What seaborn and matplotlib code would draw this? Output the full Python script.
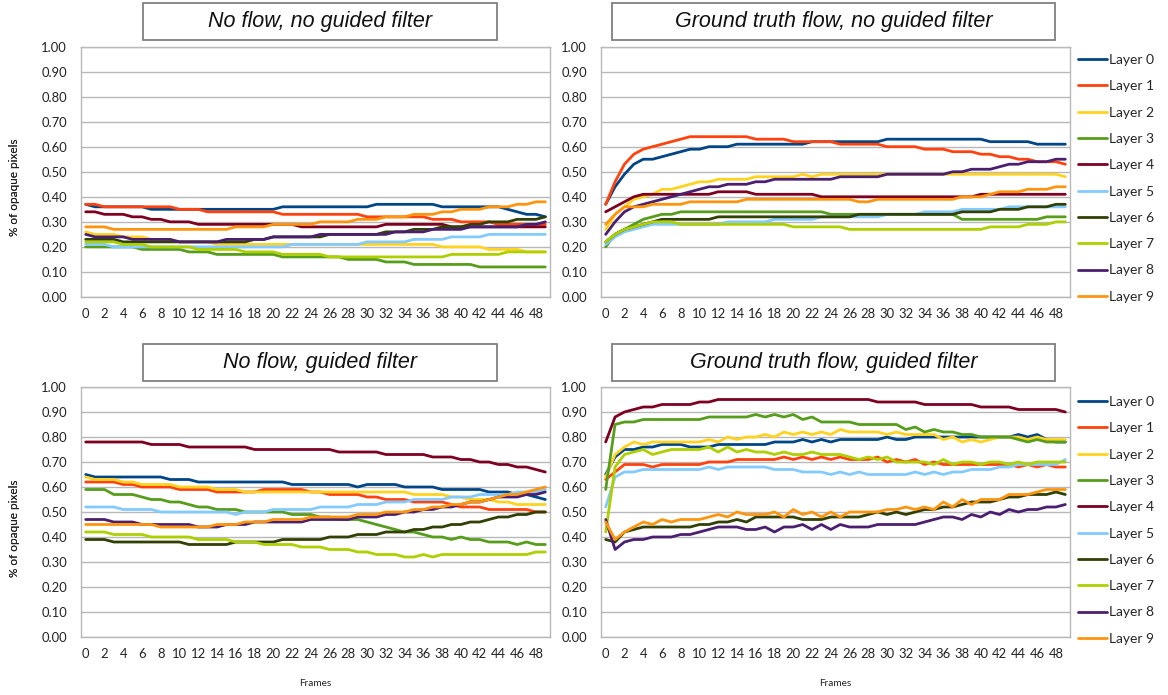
import matplotlib
matplotlib.use("Agg")
import matplotlib.pyplot as plt
from matplotlib.patches import Rectangle
import numpy as np
import pandas as pd
import seaborn as sns

# ---------------- data ----------------
frames = list(range(50))
layer_names = [f"Layer {i}" for i in range(10)]
layer_colors = ["#004586", "#ff420e", "#ffd320", "#579d1c", "#7e0021",
                "#83caff", "#314004", "#aecf00", "#4b1f6f", "#ff950e"]
panel_titles = ["No flow, no guided filter", "Ground truth flow, no guided filter",
                "No flow, guided filter", "Ground truth flow, guided filter"]
y_ticks = [0.0, 0.1, 0.2, 0.3, 0.4, 0.5, 0.6, 0.7, 0.8, 0.9, 1.0]
x_ticks = list(range(0, 50, 2))

# Panel A: No flow, no guided filter
a_l0 = [0.37,0.36,0.36,0.36,0.36,0.36,0.36,0.35,0.35,0.35, 0.35,0.35,0.35,0.35,0.35,0.35,0.35,0.35,0.35,0.35,
        0.35,0.36,0.36,0.36,0.36,0.36,0.36,0.36,0.36,0.36, 0.36,0.37,0.37,0.37,0.37,0.37,0.37,0.37,0.36,0.36,
        0.36,0.36,0.36,0.36,0.36,0.35,0.34,0.33,0.33,0.32]
a_l1 = [0.37,0.37,0.36,0.36,0.36,0.36,0.36,0.36,0.36,0.36, 0.35,0.35,0.35,0.34,0.34,0.34,0.34,0.34,0.34,0.34,
        0.34,0.33,0.33,0.33,0.33,0.33,0.33,0.33,0.33,0.33, 0.32,0.32,0.32,0.32,0.32,0.32,0.32,0.31,0.31,0.31,
        0.30,0.30,0.30,0.30,0.29,0.29,0.29,0.29,0.29,0.29]
a_l2 = [0.26,0.25,0.25,0.25,0.24,0.24,0.24,0.23,0.23,0.23, 0.22,0.22,0.22,0.22,0.21,0.21,0.21,0.21,0.21,0.21,
        0.21,0.21,0.21,0.21,0.21,0.21,0.21,0.21,0.21,0.21, 0.21,0.21,0.21,0.21,0.21,0.21,0.21,0.21,0.20,0.20,
        0.20,0.20,0.20,0.19,0.19,0.19,0.19,0.18,0.18,0.18]
a_l3 = [0.20,0.20,0.20,0.20,0.20,0.20,0.19,0.19,0.19,0.19, 0.19,0.18,0.18,0.18,0.17,0.17,0.17,0.17,0.17,0.17,
        0.17,0.16,0.16,0.16,0.16,0.16,0.16,0.16,0.15,0.15, 0.15,0.15,0.14,0.14,0.14,0.13,0.13,0.13,0.13,0.13,
        0.13,0.13,0.12,0.12,0.12,0.12,0.12,0.12,0.12,0.12]
a_l4 = [0.34,0.34,0.33,0.33,0.33,0.32,0.32,0.31,0.31,0.30, 0.30,0.30,0.29,0.29,0.29,0.29,0.29,0.29,0.29,0.29,
        0.29,0.29,0.29,0.28,0.28,0.28,0.28,0.28,0.28,0.28, 0.28,0.28,0.29,0.29,0.29,0.29,0.29,0.29,0.29,0.28,
        0.28,0.28,0.28,0.28,0.28,0.28,0.28,0.28,0.28,0.28]
a_l5 = [0.21,0.21,0.21,0.20,0.20,0.20,0.20,0.20,0.20,0.20, 0.20,0.20,0.20,0.20,0.20,0.20,0.20,0.20,0.20,0.20,
        0.20,0.20,0.21,0.21,0.21,0.21,0.21,0.21,0.21,0.21, 0.22,0.22,0.22,0.22,0.22,0.23,0.23,0.23,0.23,0.24,
        0.24,0.24,0.24,0.25,0.25,0.25,0.25,0.25,0.25,0.25]
a_l6 = [0.23,0.23,0.23,0.23,0.22,0.22,0.22,0.22,0.22,0.22, 0.22,0.22,0.22,0.22,0.22,0.22,0.22,0.22,0.23,0.23,
        0.24,0.24,0.24,0.24,0.24,0.24,0.25,0.25,0.25,0.25, 0.25,0.25,0.26,0.26,0.26,0.27,0.27,0.27,0.28,0.28,
        0.28,0.29,0.29,0.30,0.30,0.30,0.31,0.31,0.31,0.32]
a_l7 = [0.22,0.22,0.22,0.22,0.21,0.21,0.21,0.20,0.20,0.20, 0.20,0.20,0.19,0.19,0.19,0.19,0.19,0.18,0.18,0.18,
        0.18,0.17,0.17,0.17,0.17,0.17,0.16,0.16,0.16,0.16, 0.16,0.16,0.16,0.16,0.16,0.16,0.16,0.16,0.16,0.17,
        0.17,0.17,0.17,0.17,0.17,0.18,0.18,0.18,0.18,0.18]
a_l8 = [0.25,0.24,0.24,0.24,0.24,0.23,0.23,0.23,0.23,0.23, 0.22,0.22,0.22,0.22,0.22,0.23,0.23,0.23,0.23,0.23,
        0.24,0.24,0.24,0.24,0.24,0.25,0.25,0.25,0.25,0.25, 0.25,0.25,0.25,0.26,0.26,0.26,0.26,0.27,0.27,0.27,
        0.27,0.28,0.28,0.28,0.28,0.28,0.28,0.29,0.29,0.30]
a_l9 = [0.28,0.28,0.28,0.27,0.27,0.27,0.27,0.27,0.27,0.27, 0.27,0.27,0.27,0.27,0.27,0.27,0.28,0.28,0.28,0.28,
        0.29,0.29,0.29,0.29,0.29,0.30,0.30,0.30,0.30,0.31, 0.31,0.31,0.32,0.32,0.32,0.33,0.33,0.33,0.34,0.34,
        0.35,0.35,0.35,0.36,0.36,0.36,0.37,0.37,0.38,0.38]

# Panel B: Ground truth flow, no guided filter
b_l0 = [0.37,0.44,0.49,0.53,0.55,0.55,0.56,0.57,0.58,0.59, 0.59,0.60,0.60,0.60,0.61,0.61,0.61,0.61,0.61,0.61,
        0.61,0.61,0.62,0.62,0.62,0.62,0.62,0.62,0.62,0.62, 0.63,0.63,0.63,0.63,0.63,0.63,0.63,0.63,0.63,0.63,
        0.63,0.62,0.62,0.62,0.62,0.62,0.61,0.61,0.61,0.61]
b_l1 = [0.37,0.46,0.53,0.57,0.59,0.60,0.61,0.62,0.63,0.64, 0.64,0.64,0.64,0.64,0.64,0.64,0.63,0.63,0.63,0.63,
        0.62,0.62,0.62,0.62,0.62,0.61,0.61,0.61,0.61,0.61, 0.60,0.60,0.60,0.60,0.59,0.59,0.59,0.58,0.58,0.58,
        0.57,0.57,0.56,0.56,0.55,0.55,0.54,0.54,0.54,0.53]
b_l2 = [0.27,0.33,0.36,0.39,0.40,0.41,0.43,0.43,0.44,0.45, 0.46,0.46,0.47,0.47,0.47,0.47,0.48,0.48,0.48,0.48,
        0.48,0.49,0.48,0.49,0.49,0.49,0.49,0.49,0.49,0.49, 0.49,0.49,0.49,0.49,0.49,0.49,0.49,0.49,0.49,0.49,
        0.49,0.49,0.49,0.49,0.49,0.49,0.49,0.49,0.49,0.48]
b_l3 = [0.20,0.25,0.27,0.29,0.31,0.32,0.33,0.33,0.34,0.34, 0.34,0.34,0.34,0.34,0.34,0.34,0.34,0.34,0.34,0.34,
        0.34,0.34,0.34,0.34,0.33,0.33,0.33,0.33,0.33,0.33, 0.33,0.33,0.33,0.33,0.33,0.33,0.33,0.33,0.31,0.31,
        0.31,0.31,0.31,0.31,0.31,0.31,0.31,0.32,0.32,0.32]
b_l4 = [0.34,0.36,0.38,0.40,0.41,0.41,0.41,0.41,0.41,0.41, 0.41,0.41,0.42,0.42,0.42,0.42,0.41,0.41,0.41,0.41,
        0.41,0.41,0.41,0.40,0.40,0.40,0.40,0.40,0.40,0.40, 0.40,0.40,0.40,0.40,0.40,0.40,0.40,0.40,0.40,0.40,
        0.41,0.41,0.41,0.41,0.41,0.41,0.41,0.41,0.41,0.41]
b_l5 = [0.21,0.24,0.26,0.27,0.28,0.29,0.29,0.29,0.29,0.29, 0.29,0.29,0.29,0.30,0.30,0.30,0.30,0.30,0.31,0.31,
        0.31,0.31,0.31,0.32,0.32,0.32,0.32,0.32,0.32,0.32, 0.33,0.33,0.33,0.33,0.34,0.34,0.34,0.34,0.35,0.35,
        0.35,0.35,0.35,0.36,0.36,0.36,0.36,0.36,0.36,0.36]
b_l6 = [0.22,0.25,0.27,0.28,0.29,0.30,0.31,0.31,0.31,0.31, 0.31,0.31,0.32,0.32,0.32,0.32,0.32,0.32,0.32,0.32,
        0.32,0.32,0.32,0.32,0.32,0.32,0.32,0.33,0.33,0.33, 0.33,0.33,0.33,0.33,0.33,0.33,0.33,0.33,0.34,0.34,
        0.34,0.34,0.35,0.35,0.35,0.36,0.36,0.36,0.37,0.37]
b_l7 = [0.22,0.25,0.27,0.28,0.29,0.30,0.30,0.30,0.29,0.29, 0.29,0.29,0.29,0.29,0.29,0.29,0.29,0.29,0.29,0.29,
        0.28,0.28,0.28,0.28,0.28,0.28,0.27,0.27,0.27,0.27, 0.27,0.27,0.27,0.27,0.27,0.27,0.27,0.27,0.27,0.27,
        0.27,0.28,0.28,0.28,0.28,0.29,0.29,0.29,0.30,0.30]
b_l8 = [0.25,0.30,0.34,0.36,0.37,0.38,0.39,0.40,0.41,0.42, 0.43,0.44,0.44,0.45,0.45,0.45,0.46,0.46,0.47,0.47,
        0.47,0.47,0.47,0.47,0.47,0.48,0.48,0.48,0.48,0.48, 0.49,0.49,0.49,0.49,0.49,0.49,0.49,0.50,0.50,0.51,
        0.51,0.51,0.52,0.53,0.53,0.54,0.54,0.54,0.55,0.55]
b_l9 = [0.29,0.33,0.36,0.36,0.36,0.37,0.37,0.37,0.37,0.38, 0.38,0.38,0.38,0.38,0.38,0.39,0.39,0.39,0.39,0.39,
        0.39,0.39,0.39,0.39,0.39,0.39,0.39,0.38,0.38,0.39, 0.39,0.39,0.39,0.39,0.39,0.39,0.39,0.39,0.40,0.40,
        0.40,0.41,0.42,0.42,0.42,0.43,0.43,0.43,0.44,0.44]

# Panel C: No flow, guided filter
c_l0 = [0.65,0.64,0.64,0.64,0.64,0.64,0.64,0.64,0.64,0.63, 0.63,0.63,0.62,0.62,0.62,0.62,0.62,0.62,0.62,0.62,
        0.62,0.62,0.61,0.61,0.61,0.61,0.61,0.61,0.61,0.60, 0.61,0.61,0.61,0.61,0.60,0.60,0.60,0.60,0.59,0.59,
        0.59,0.59,0.59,0.58,0.58,0.58,0.57,0.57,0.56,0.55]
c_l1 = [0.62,0.62,0.62,0.62,0.61,0.61,0.60,0.60,0.60,0.60, 0.59,0.59,0.59,0.59,0.58,0.58,0.58,0.58,0.58,0.59,
        0.59,0.59,0.59,0.59,0.58,0.58,0.57,0.57,0.57,0.57, 0.56,0.56,0.55,0.55,0.55,0.54,0.54,0.54,0.54,0.53,
        0.52,0.52,0.52,0.51,0.51,0.51,0.51,0.51,0.50,0.50]
c_l2 = [0.64,0.63,0.63,0.63,0.62,0.62,0.61,0.61,0.61,0.61, 0.60,0.60,0.60,0.60,0.59,0.59,0.59,0.58,0.58,0.58,
        0.58,0.58,0.58,0.58,0.58,0.58,0.58,0.58,0.58,0.58, 0.58,0.58,0.58,0.58,0.58,0.57,0.57,0.57,0.57,0.56,
        0.56,0.55,0.55,0.55,0.54,0.54,0.53,0.53,0.53,0.53]
c_l3 = [0.59,0.59,0.59,0.57,0.57,0.57,0.56,0.55,0.55,0.54, 0.54,0.53,0.52,0.52,0.51,0.51,0.51,0.50,0.50,0.50,
        0.50,0.50,0.49,0.49,0.49,0.48,0.48,0.47,0.47,0.47, 0.46,0.45,0.44,0.43,0.42,0.42,0.41,0.40,0.40,0.39,
        0.40,0.39,0.39,0.38,0.38,0.38,0.37,0.38,0.37,0.37]
c_l4 = [0.78,0.78,0.78,0.78,0.78,0.78,0.78,0.77,0.77,0.77, 0.77,0.76,0.76,0.76,0.76,0.76,0.76,0.76,0.75,0.75,
        0.75,0.75,0.75,0.75,0.75,0.75,0.75,0.74,0.74,0.74, 0.74,0.74,0.73,0.73,0.73,0.73,0.73,0.72,0.72,0.72,
        0.71,0.71,0.70,0.70,0.69,0.69,0.68,0.68,0.67,0.66]
c_l5 = [0.52,0.52,0.52,0.52,0.51,0.51,0.51,0.51,0.50,0.50, 0.50,0.50,0.50,0.50,0.50,0.50,0.49,0.50,0.50,0.50,
        0.51,0.51,0.51,0.51,0.51,0.52,0.52,0.52,0.52,0.53, 0.53,0.53,0.54,0.54,0.54,0.55,0.55,0.55,0.55,0.56,
        0.56,0.56,0.57,0.57,0.57,0.57,0.58,0.58,0.58,0.59]
c_l6 = [0.39,0.39,0.39,0.38,0.38,0.38,0.38,0.38,0.38,0.38, 0.38,0.37,0.37,0.37,0.37,0.37,0.38,0.38,0.38,0.38,
        0.38,0.39,0.39,0.39,0.39,0.39,0.40,0.40,0.40,0.41, 0.41,0.41,0.42,0.42,0.42,0.43,0.43,0.44,0.44,0.45,
        0.45,0.46,0.46,0.47,0.48,0.48,0.49,0.49,0.50,0.50]
c_l7 = [0.42,0.42,0.42,0.41,0.41,0.41,0.41,0.40,0.40,0.40, 0.40,0.40,0.39,0.39,0.39,0.39,0.38,0.38,0.38,0.37,
        0.37,0.37,0.37,0.36,0.36,0.36,0.35,0.35,0.35,0.34, 0.34,0.33,0.33,0.33,0.32,0.32,0.33,0.32,0.33,0.33,
        0.33,0.33,0.33,0.33,0.33,0.33,0.33,0.33,0.34,0.34]
c_l8 = [0.47,0.47,0.47,0.46,0.46,0.46,0.45,0.45,0.45,0.45, 0.45,0.45,0.44,0.44,0.44,0.45,0.45,0.45,0.46,0.46,
        0.46,0.46,0.46,0.46,0.47,0.47,0.47,0.47,0.47,0.48, 0.48,0.48,0.49,0.49,0.50,0.50,0.51,0.51,0.52,0.52,
        0.53,0.54,0.54,0.55,0.56,0.56,0.56,0.57,0.57,0.58]
c_l9 = [0.45,0.45,0.45,0.45,0.45,0.45,0.45,0.45,0.44,0.44, 0.44,0.44,0.44,0.44,0.45,0.45,0.45,0.46,0.46,0.46,
        0.47,0.47,0.47,0.47,0.48,0.48,0.48,0.48,0.48,0.49, 0.49,0.49,0.50,0.50,0.50,0.51,0.51,0.52,0.52,0.53,
        0.53,0.54,0.54,0.55,0.56,0.57,0.57,0.58,0.59,0.60]

# Panel D: Ground truth flow, guided filter
d_l0 = [0.65,0.72,0.75,0.75,0.76,0.76,0.77,0.77,0.77,0.76, 0.76,0.76,0.77,0.77,0.77,0.77,0.77,0.77,0.78,0.78,
        0.78,0.79,0.78,0.79,0.78,0.79,0.79,0.79,0.79,0.79, 0.80,0.79,0.79,0.80,0.80,0.80,0.80,0.80,0.80,0.80,
        0.80,0.80,0.80,0.80,0.81,0.80,0.81,0.79,0.78,0.78]
d_l1 = [0.63,0.66,0.69,0.69,0.69,0.68,0.69,0.69,0.69,0.69, 0.69,0.70,0.70,0.70,0.71,0.71,0.71,0.71,0.71,0.72,
        0.71,0.72,0.71,0.72,0.71,0.72,0.71,0.71,0.71,0.72, 0.70,0.71,0.70,0.71,0.69,0.70,0.69,0.69,0.69,0.69,
        0.69,0.69,0.69,0.69,0.68,0.69,0.68,0.69,0.68,0.68]
d_l2 = [0.64,0.73,0.76,0.78,0.77,0.78,0.78,0.78,0.78,0.78, 0.78,0.79,0.78,0.80,0.79,0.80,0.80,0.81,0.80,0.82,
        0.81,0.82,0.81,0.82,0.81,0.83,0.82,0.82,0.82,0.82, 0.81,0.82,0.81,0.81,0.81,0.81,0.79,0.80,0.78,0.79,
        0.78,0.79,0.80,0.80,0.80,0.79,0.80,0.79,0.79,0.79]
d_l3 = [0.59,0.85,0.86,0.86,0.87,0.87,0.87,0.87,0.87,0.87, 0.87,0.88,0.88,0.88,0.88,0.88,0.89,0.88,0.89,0.88,
        0.89,0.87,0.88,0.86,0.86,0.86,0.86,0.85,0.85,0.85, 0.85,0.85,0.83,0.84,0.82,0.83,0.82,0.82,0.81,0.81,
        0.80,0.80,0.80,0.80,0.79,0.78,0.79,0.78,0.78,0.78]
d_l4 = [0.78,0.88,0.90,0.91,0.92,0.92,0.93,0.93,0.93,0.93, 0.94,0.94,0.95,0.95,0.95,0.95,0.95,0.95,0.95,0.95,
        0.95,0.95,0.95,0.95,0.95,0.95,0.95,0.95,0.95,0.94, 0.94,0.94,0.94,0.94,0.93,0.93,0.93,0.93,0.93,0.93,
        0.92,0.92,0.92,0.92,0.91,0.91,0.91,0.91,0.91,0.90]
d_l5 = [0.52,0.64,0.66,0.66,0.67,0.67,0.67,0.67,0.67,0.67, 0.67,0.68,0.67,0.68,0.68,0.68,0.68,0.68,0.67,0.67,
        0.67,0.66,0.66,0.66,0.65,0.66,0.65,0.66,0.65,0.65, 0.65,0.65,0.65,0.66,0.65,0.66,0.65,0.66,0.66,0.67,
        0.67,0.67,0.68,0.68,0.69,0.69,0.69,0.69,0.69,0.71]
d_l6 = [0.39,0.38,0.42,0.43,0.44,0.44,0.44,0.44,0.44,0.44, 0.45,0.45,0.46,0.46,0.47,0.46,0.48,0.48,0.48,0.48,
        0.48,0.47,0.47,0.47,0.48,0.48,0.48,0.48,0.49,0.50, 0.49,0.50,0.49,0.50,0.51,0.51,0.52,0.52,0.53,0.54,
        0.54,0.54,0.55,0.56,0.56,0.57,0.57,0.57,0.58,0.57]
d_l7 = [0.42,0.68,0.73,0.74,0.75,0.73,0.74,0.75,0.75,0.75, 0.75,0.76,0.74,0.76,0.74,0.75,0.74,0.74,0.73,0.74,
        0.73,0.73,0.74,0.73,0.73,0.73,0.72,0.71,0.72,0.71, 0.72,0.70,0.70,0.70,0.70,0.69,0.71,0.69,0.70,0.70,
        0.69,0.70,0.70,0.69,0.70,0.69,0.70,0.70,0.70,0.70]
d_l8 = [0.47,0.35,0.38,0.39,0.39,0.40,0.40,0.40,0.41,0.41, 0.42,0.43,0.44,0.44,0.44,0.43,0.43,0.44,0.42,0.44,
        0.44,0.45,0.43,0.45,0.43,0.45,0.44,0.44,0.44,0.45, 0.45,0.45,0.45,0.45,0.46,0.47,0.48,0.48,0.47,0.49,
        0.48,0.50,0.49,0.51,0.50,0.51,0.51,0.52,0.52,0.53]
d_l9 = [0.46,0.39,0.42,0.44,0.46,0.45,0.47,0.46,0.47,0.47, 0.47,0.48,0.49,0.48,0.50,0.49,0.49,0.49,0.50,0.48,
        0.51,0.49,0.50,0.48,0.50,0.48,0.50,0.50,0.50,0.50, 0.51,0.51,0.52,0.51,0.52,0.51,0.54,0.52,0.55,0.53,
        0.55,0.55,0.55,0.57,0.57,0.57,0.58,0.59,0.59,0.59]

panels = [
    [a_l0, a_l1, a_l2, a_l3, a_l4, a_l5, a_l6, a_l7, a_l8, a_l9],
    [b_l0, b_l1, b_l2, b_l3, b_l4, b_l5, b_l6, b_l7, b_l8, b_l9],
    [c_l0, c_l1, c_l2, c_l3, c_l4, c_l5, c_l6, c_l7, c_l8, c_l9],
    [d_l0, d_l1, d_l2, d_l3, d_l4, d_l5, d_l6, d_l7, d_l8, d_l9],
]

# ---------------- style ----------------
sns.set_style("white")
plt.rcParams["font.family"] = ["Lato", "DejaVu Sans"]

W, H = 1168, 695
fig = plt.figure(figsize=(W / 100, H / 100), dpi=100)

def fx(px):
    return px / W

def fy(py):
    return 1 - py / H

# axes rectangles in pixel coords: (left, top, right, bottom)
rects = [(81, 46.5, 550, 297), (601, 46.5, 1070, 297),
         (81, 387, 550, 637), (601, 387, 1070, 637)]
title_boxes = [(143, 3, 497, 40), (612, 3, 1055, 40),
               (143, 344, 497, 381), (612, 344, 1055, 381)]

grid_col = "#b8b8b8"
palette = dict(zip(layer_names, layer_colors))

for k in range(4):
    l, t, r, b = rects[k]
    ax = fig.add_axes([fx(l), fy(b), fx(r) - fx(l), fy(t) - fy(b)])
    rows = []
    for name, vals in zip(layer_names, panels[k]):
        for f, v in zip(frames, vals):
            rows.append((f, v, name))
    df = pd.DataFrame(rows, columns=["frame", "value", "layer"])
    sns.lineplot(data=df, x="frame", y="value", hue="layer", hue_order=layer_names,
                 palette=palette, linewidth=2.0, ax=ax, legend=(k in (1, 3)))
    ax.set_xlim(-0.5, 49.5)
    ax.set_ylim(0, 1)
    ax.set_yticks(y_ticks)
    ax.set_yticklabels([f"{v:.2f}" for v in y_ticks])
    ax.set_xticks(x_ticks)
    ax.set_xticklabels([str(v) for v in x_ticks])
    ax.tick_params(axis="both", length=0, labelsize=9.4, colors="#222222")
    ax.tick_params(axis="y", pad=10)
    ax.tick_params(axis="x", pad=8)
    ax.yaxis.grid(True, color=grid_col, linewidth=1.0)
    ax.xaxis.grid(False)
    ax.set_axisbelow(True)
    for s in ax.spines.values():
        s.set_color(grid_col)
        s.set_linewidth(1.0)
    ax.set_xlabel("")
    ax.set_ylabel("")

    if k in (1, 3):
        handles, labels = ax.get_legend_handles_labels()
        ax.get_legend().remove()
        leg_top = 54 if k == 1 else 396
        leg = ax.legend(handles, labels, loc="upper left",
                        bbox_to_anchor=(fx(1078), fy(leg_top)),
                        bbox_transform=fig.transFigure, frameon=False,
                        fontsize=10, labelspacing=1.03, handlelength=2.1,
                        handletextpad=0.15, borderpad=0, borderaxespad=0)
        for line in leg.get_lines():
            line.set_linewidth(2.0)

    # title box
    bl, bt, br, bb = title_boxes[k]
    fig.add_artist(Rectangle((fx(bl), fy(bb)), fx(br) - fx(bl), fy(bt) - fy(bb),
                             transform=fig.transFigure, facecolor="white",
                             edgecolor="#808080", linewidth=1.3))
    fig.text(fx((bl + br) / 2), fy((bt + bb) / 2), panel_titles[k],
             ha="center", va="center", fontsize=15.5, style="italic",
             family=["Liberation Sans", "DejaVu Sans"], color="#111111")

    # y label
    fig.text(fx(15), fy((t + b) / 2 + 16), "% of opaque pixels", rotation=90,
             ha="center", va="center", fontsize=8.5, color="#222222")

# x labels
for k in (2, 3):
    l, t, r, b = rects[k]
    fig.text(fx((l + r) / 2), fy(683), "Frames", ha="center", va="center",
             fontsize=7.2, color="#222222")

fig.savefig("out.png", dpi=100)
